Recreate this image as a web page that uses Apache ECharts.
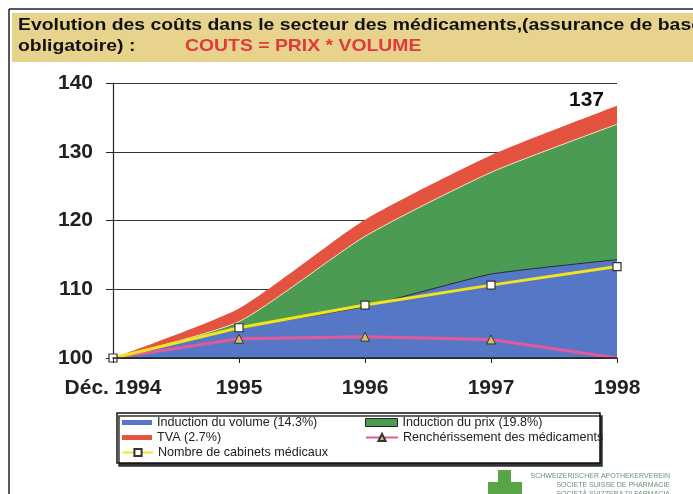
<!DOCTYPE html>
<html>
<head>
<meta charset="utf-8">
<script src="https://cdn.jsdelivr.net/npm/echarts@6/dist/echarts.min.js"></script>
<style>
  html, body { margin: 0; padding: 0; background: #fff; }
  #chart { width: 693px; height: 494px; }
</style>
</head>
<body>
<div id="chart"></div>
<script>
// values (index, Déc. 1994 = 100)
const categories = ['Déc. 1994', '1995', '1996', '1997', '1998']
const volumeTop = [100, 104.3, 107.5, 112.2, 114.3]
const prixTop = [100, 105.3, 117.7, 127.0, 134.0]
const tvaTop = [100, 107.2, 120.1, 129.5, 136.7]
const rencherissement = [100, 102.8, 103.1, 102.7, 100]
const cabinets = [100, 104.4, 107.7, 110.6, 113.3]
const yTicks = [100, 110, 120, 130, 140]
const endLabel = '137'

const names = {
  volume: 'Induction du volume (14.3%)',
  prix: 'Induction du prix (19.8%)',
  tva: 'TVA (2.7%)',
  ren: 'Renchérissement des médicaments',
  cab: 'Nombre de cabinets médicaux'
}

const BLUE = '#5577c6'
const GREEN = '#4b9b52'
const RED = '#e4533f'
const YELLOW = '#f2e41c'
const PINK = '#e35a9c'

const chart = echarts.init(document.getElementById('chart'))

const legendText = { color: '#222', fontSize: 12.6, fontFamily: 'Liberation Sans, Arial, sans-serif' }

function legendRow(name, left, top, w, h, extra) {
  return Object.assign({
    left: left,
    top: top,
    orient: 'horizontal',
    itemWidth: w,
    itemHeight: h,
    selectedMode: false,
    padding: 0,
    textStyle: legendText,
    data: [name]
  }, extra || {})
}

const option = {
  animation: false,
  backgroundColor: '#fff',
  grid: { left: 113, right: 76, top: 83, bottom: 136 },
  xAxis: {
    type: 'category',
    data: categories,
    boundaryGap: false,
    z: 10,
    axisLine: { lineStyle: { color: '#222', width: 1.5 } },
    axisTick: { length: 5, lineStyle: { color: '#222' } },
    axisLabel: {
      margin: 20,
      color: '#222',
      fontSize: 21,
      fontWeight: 'bold',
      fontFamily: 'Liberation Sans, Arial, sans-serif'
    }
  },
  yAxis: {
    type: 'value',
    min: yTicks[0],
    max: yTicks[yTicks.length - 1],
    interval: yTicks[1] - yTicks[0],
    axisLine: { show: true, lineStyle: { color: '#222', width: 1.2 } },
    axisTick: { show: true, length: 7, lineStyle: { color: '#222' } },
    splitLine: { lineStyle: { color: '#333', width: 1 } },
    axisLabel: {
      margin: 20,
      color: '#222',
      fontSize: 21,
      fontWeight: 'bold',
      fontFamily: 'Liberation Sans, Arial, sans-serif'
    }
  },
  legend: [
    legendRow(names.volume, 122, 416, 30, 5, { data: [{ name: names.volume, icon: 'rect', itemStyle: { color: BLUE } }] }),
    legendRow(names.tva, 122, 431, 30, 5, { data: [{ name: names.tva, icon: 'rect', itemStyle: { color: RED } }] }),
    legendRow(names.cab, 122, 446, 30, 9),
    legendRow(names.prix, 365, 416, 32, 8, { data: [{ name: names.prix, icon: 'rect', itemStyle: { color: GREEN, borderColor: '#222', borderWidth: 1 } }] }),
    legendRow(names.ren, 365, 431, 32, 9)
  ],
  graphic: [
    // page frame
    { type: 'line', shape: { x1: 9, y1: 9, x2: 693, y2: 9 }, style: { stroke: '#222', lineWidth: 1.5 } },
    { type: 'line', shape: { x1: 9, y1: 9, x2: 9, y2: 494 }, style: { stroke: '#222', lineWidth: 1.5 } },
    // title band
    { type: 'rect', shape: { x: 12, y: 13, width: 681, height: 49 }, style: { fill: '#e8d38c' } },
    {
      type: 'text', x: 18, y: 17, scaleX: 1.14,
      style: {
        text: 'Evolution des coûts dans le secteur des médicaments,(assurance de base',
        fill: '#111', font: 'bold 17px Liberation Sans, Arial, sans-serif'
      }
    },
    {
      type: 'text', x: 18, y: 38, scaleX: 1.14,
      style: { text: 'obligatoire) :', fill: '#111', font: 'bold 17px Liberation Sans, Arial, sans-serif' }
    },
    {
      type: 'text', x: 185, y: 38, scaleX: 1.14,
      style: { text: 'COUTS = PRIX * VOLUME', fill: '#e0393e', font: 'bold 17px Liberation Sans, Arial, sans-serif' }
    },
    // legend box
    {
      type: 'rect', z: 1,
      shape: { x: 117, y: 413, width: 483, height: 50 },
      style: { fill: '#fff', stroke: '#111', lineWidth: 1.5, shadowColor: '#333', shadowOffsetX: 2, shadowOffsetY: 3 }
    },
    // logo
    { type: 'rect', shape: { x: 498, y: 470, width: 13, height: 30 }, style: { fill: '#5aa448' } },
    { type: 'rect', shape: { x: 488, y: 482, width: 34, height: 13 }, style: { fill: '#5aa448' } },
    {
      type: 'text', x: 670, y: 473,
      style: { text: 'SCHWEIZERISCHER APOTHEKERVEREIN', align: 'right', fill: '#6f8f7a', font: '7px Liberation Sans, Arial, sans-serif' }
    },
    {
      type: 'text', x: 670, y: 482,
      style: { text: 'SOCIETE SUISSE DE PHARMACIE', align: 'right', fill: '#6f8f7a', font: '7px Liberation Sans, Arial, sans-serif' }
    },
    {
      type: 'text', x: 670, y: 491,
      style: { text: 'SOCIETÀ SVIZZERA DI FARMACIA', align: 'right', fill: '#6f8f7a', font: '7px Liberation Sans, Arial, sans-serif' }
    }
  ],
  series: [
    {
      name: names.tva,
      type: 'line',
      data: tvaTop,
      smooth: 0.2,
      symbol: 'none',
      z: 2,
      itemStyle: { color: RED },
      lineStyle: { width: 0, color: RED },
      areaStyle: { color: RED, opacity: 1 },
      markPoint: {
        symbol: 'circle',
        symbolSize: 0,
        data: [{ coord: [categories.length - 1, tvaTop[tvaTop.length - 1]], value: endLabel }],
        label: {
          show: true,
          position: [-48, -16],
          formatter: endLabel,
          color: '#111',
          fontSize: 21,
          fontWeight: 'bold',
          fontFamily: 'Liberation Sans, Arial, sans-serif'
        }
      }
    },
    {
      name: names.prix,
      type: 'line',
      data: prixTop,
      smooth: 0.2,
      symbol: 'none',
      z: 3,
      itemStyle: { color: GREEN },
      lineStyle: { width: 1, color: '#f1e7c2' },
      areaStyle: { color: GREEN, opacity: 1 }
    },
    {
      name: names.volume,
      type: 'line',
      data: volumeTop,
      smooth: 0.15,
      symbol: 'none',
      z: 4,
      itemStyle: { color: BLUE },
      lineStyle: { width: 1, color: '#2a2a3a' },
      areaStyle: { color: BLUE, opacity: 1 }
    },
    {
      name: names.ren,
      type: 'line',
      z: 5,
      data: rencherissement.map((v, i) =>
        (i === 0 || i === rencherissement.length - 1) ? { value: v, symbol: 'none' } : v),
      symbol: 'triangle',
      symbolSize: 9,
      itemStyle: { color: '#c9c46a', borderColor: '#333', borderWidth: 1 },
      lineStyle: { color: PINK, width: 3 }
    },
    {
      name: names.cab,
      type: 'line',
      z: 6,
      data: cabinets,
      symbol: 'rect',
      symbolSize: 8,
      itemStyle: { color: '#fff', borderColor: '#333', borderWidth: 1.2 },
      lineStyle: { color: YELLOW, width: 3 }
    }
  ]
}

chart.setOption(option)
</script>
</body>
</html>
